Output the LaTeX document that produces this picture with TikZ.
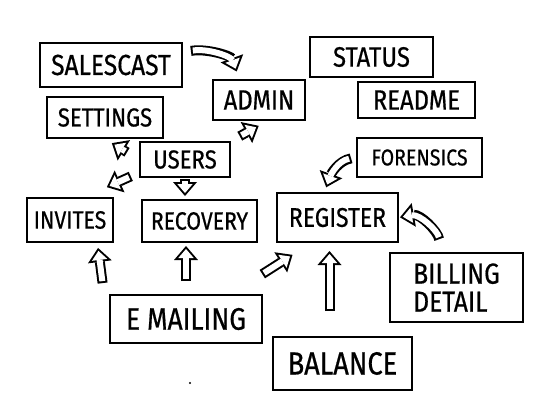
\documentclass[tikz,border=0pt]{standalone}
\usepackage{fontspec}
\setmainfont{Fira Sans}[FakeStretch=0.85, FakeBold=0.6]
\usetikzlibrary{arrows.meta}

\begin{document}
\begin{tikzpicture}[x=1pt, y=-1pt,
    box/.style={draw, line width=2pt, inner sep=0pt, font=\fontsize{26}{28}\selectfont},
    hollow/.style 2 args={line width=10pt, shorten <=#1, shorten >=#2,
        -{Triangle[length=14pt, width=24pt, line width=0pt]},
        postaction={draw=white, line width=6pt, shorten <=#1+2pt, shorten >=#2+3pt,
            -{Triangle[length=9pt, width=15.4pt, line width=0pt]}}}]
            \useasboundingbox (0,0) rectangle (550,405);
            \node[box, minimum width=142pt, minimum height=44pt, font=\fontsize{29}{31}\selectfont] (salescast) at (111,65) {SALESCAST};
            \node[box, minimum width=123pt, minimum height=40pt, font=\fontsize{28}{30}\selectfont] (status) at (371.5,57) {STATUS};
            \node[box, minimum width=92pt, minimum height=40pt, font=\fontsize{28}{30}\selectfont] (admin) at (259,100) {ADMIN};
            \node[box, minimum width=117pt, minimum height=36pt, font=\fontsize{28}{30}\selectfont] (readme) at (416.5,100) {README};
            \node[box, minimum width=116pt, minimum height=41pt] (settings) at (105,117.5) {SETTINGS};
            \node[box, minimum width=90pt, minimum height=35pt] (users) at (185,159.5) {USERS};
            \node[box, minimum width=125pt, minimum height=39pt, font=\fontsize{23}{25}\selectfont] (forensics) at (419.5,157.5) {FORENSICS};
            \node[box, minimum width=86pt, minimum height=44pt, font=\fontsize{25}{27}\selectfont] (invites) at (70,220) {INVITES};
            \node[box, minimum width=115pt, minimum height=42pt, font=\fontsize{25}{27}\selectfont] (recovery) at (199.5,221) {RECOVERY};
            \node[box, minimum width=121pt, minimum height=49pt, font=\fontsize{27}{29}\selectfont] (register) at (337.5,217.5) {REGISTER};
            \node[box, minimum width=133pt, minimum height=69pt, align=left, font=\fontsize{29}{28}\selectfont] (billing) at (456.5,287.5) {BILLING\\DETAIL};
            \node[box, minimum width=152pt, minimum height=48pt, font=\fontsize{31}{33}\selectfont] (emailing) at (186,319) {E MAILING};
            \node[box, minimum width=139pt, minimum height=53pt, font=\fontsize{32}{34}\selectfont] (balance) at (342.5,363.5) {BALANCE};
            \draw[hollow={8pt}{8pt}] (salescast.10) to[out=10, in=110] (admin.133);
            \draw[hollow={14pt}{8pt}] (users.west) -- (settings.south);
            \draw[hollow={9pt}{24pt}] (users.196) -- (invites.57);
            \draw[hollow={1pt}{3pt}] (users.south) -- (users.south |- recovery.north);
            \draw[hollow={10pt}{10pt}] (users.north east) -- (admin.-68);
            \draw[hollow={11pt}{5pt}] ([xshift=-5pt]emailing.north west) -- (invites.-40);
            \draw[hollow={13pt}{3pt}] (emailing.north) -- (emailing.north |- recovery.south);
            \draw[hollow={37pt}{22pt}] (emailing.29) -- (register.224);
            \draw[hollow={25pt}{8pt}] ([xshift=-13pt]balance.north) -- ([xshift=-13pt]balance.north |- register.south);
            \draw[hollow={5pt}{5pt}] (forensics.west) to[out=190, in=70] (register.117);
            \draw[hollow={13pt}{1pt}] (billing.113) to[out=100, in=10] (register.east);
            \fill (190,383) circle (1.2pt);
        \end{tikzpicture}
\end{document}
